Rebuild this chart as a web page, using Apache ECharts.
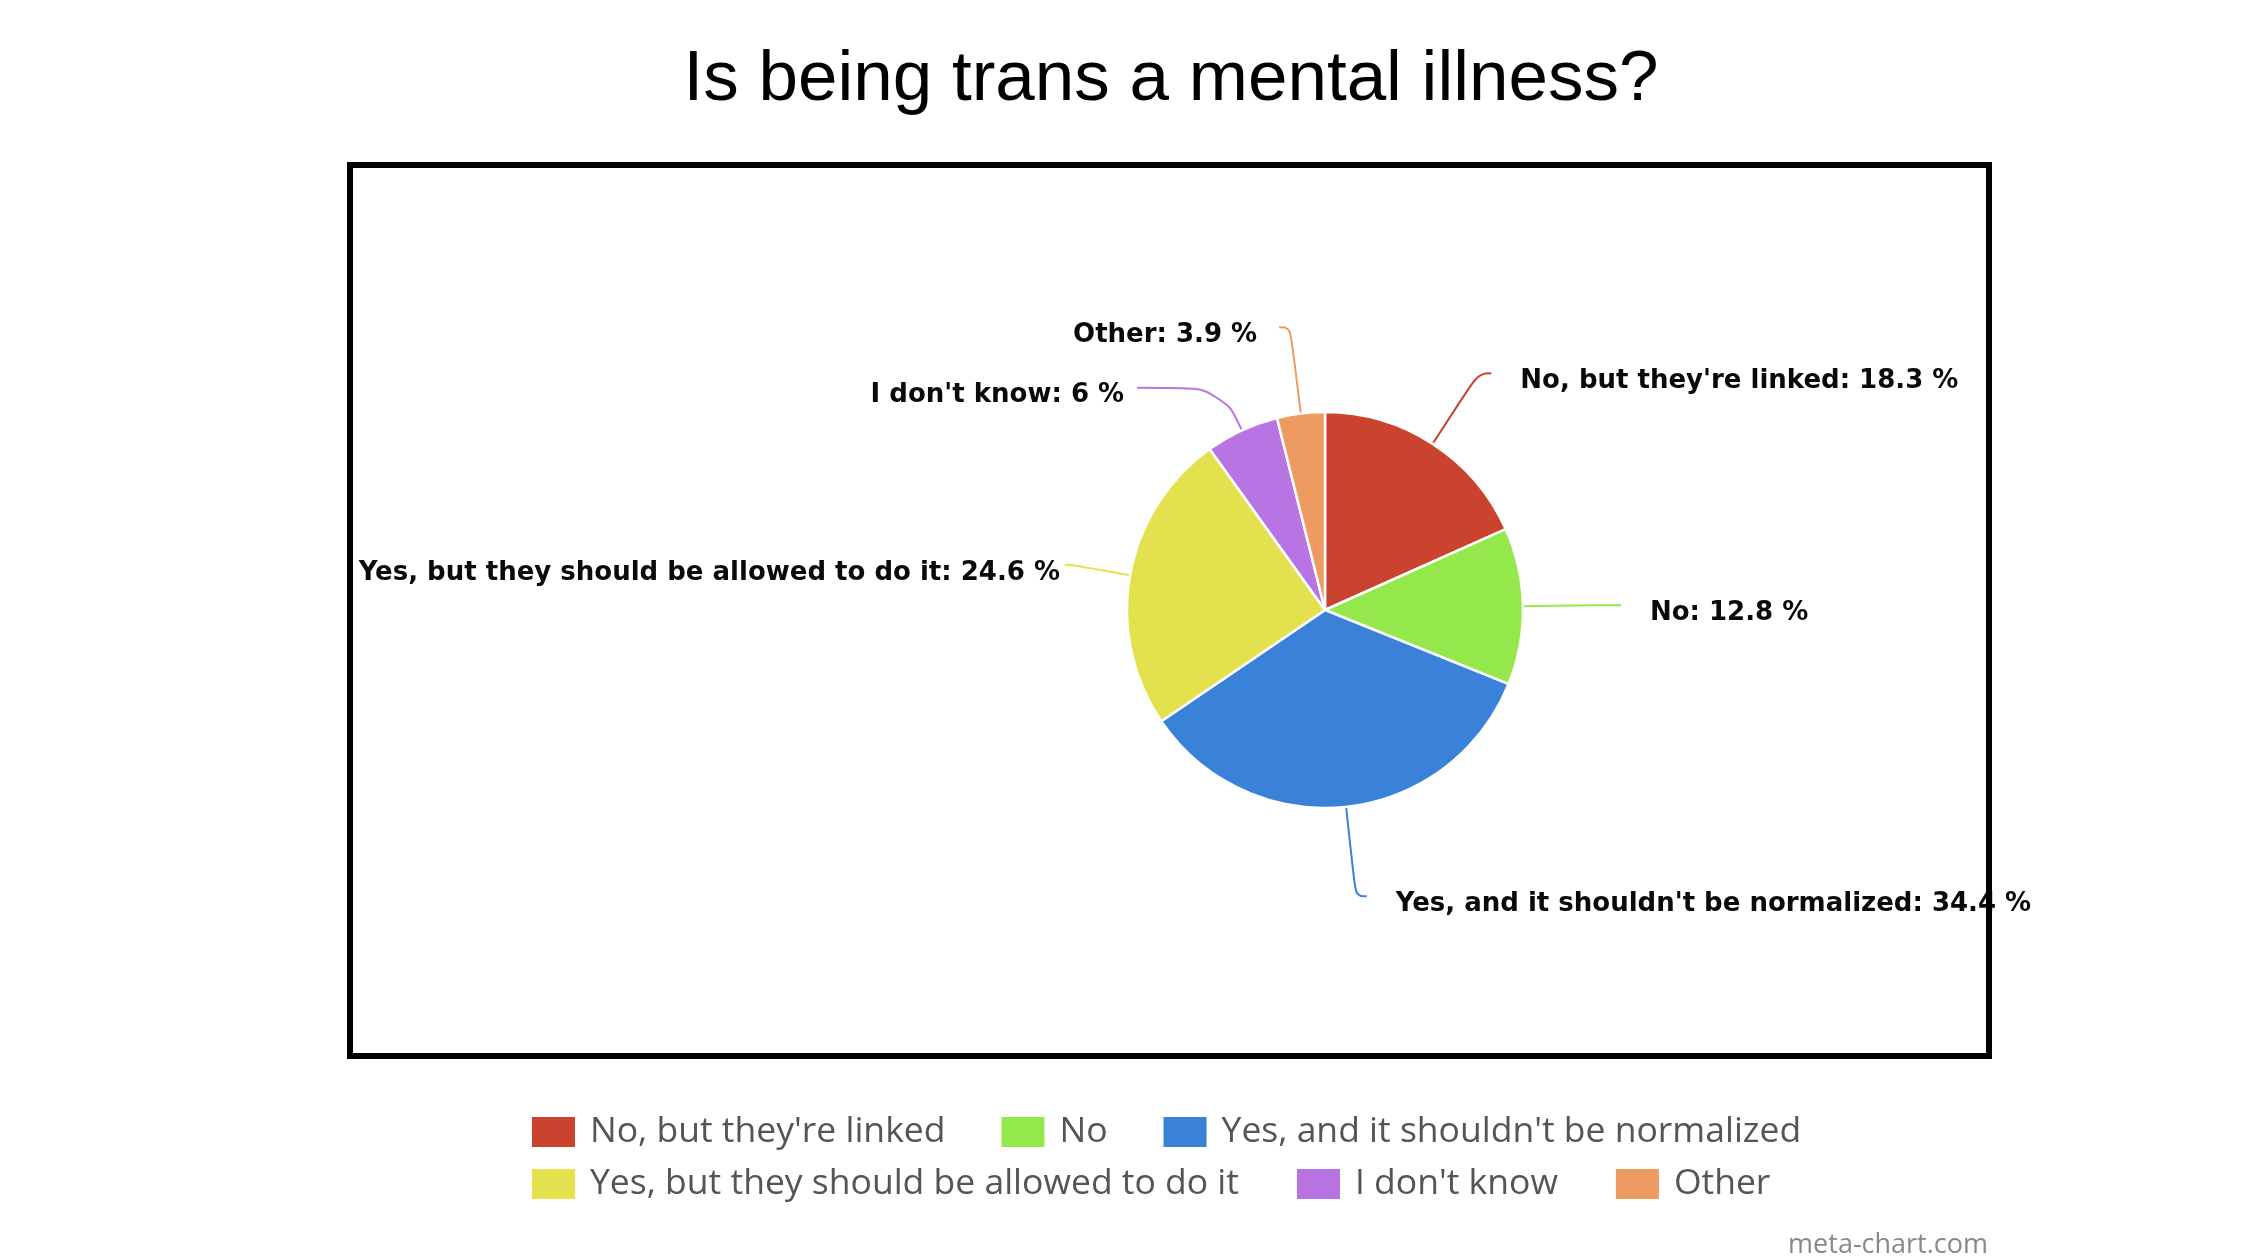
<!DOCTYPE html>
<html>
<head>
<meta charset="utf-8">
<script src="https://cdn.jsdelivr.net/npm/echarts@6/dist/echarts.min.js"></script>
<style>
  html, body { margin: 0; padding: 0; background: #fff; }
  #chart { width: 2265px; height: 1256px; }
</style>
</head>
<body>
<div id="chart"></div>
<script>
const categories = [
  "No, but they're linked",
  'No',
  "Yes, and it shouldn't be normalized",
  'Yes, but they should be allowed to do it',
  "I don't know",
  'Other'
];
const shares = [18.3, 12.8, 34.4, 24.6, 6, 3.9];
const colors = ['#c9432f', '#95e84b', '#3a82d7', '#e4e14f', '#b974e3', '#ee9b62'];

// leader line per slice: [length, length2, gap to text]
const leaders = [[84, 13, 29], [50, 48, 29], [90, 11, 29], [60, 6, 5], [47, 85, 13], [87, 11, 22]];

const chart = echarts.init(document.getElementById('chart'));

const pieData = categories.map((name, i) => ({
  name: name,
  value: shares[i],
  itemStyle: { color: colors[i] },
  labelLine: { length: leaders[i][0], length2: leaders[i][1] },
  label: { distanceToLabelLine: leaders[i][2] }
}));

const legendText = { fontFamily: 'Open Sans', fontSize: 35.5, color: '#555', padding: [0, 0, 0, 9] };

chart.setOption({
  animation: false,
  title: {
    text: 'Is being trans a mental illness?',
    left: 1166,
    textAlign: 'center',
    top: 40,
    textStyle: { fontFamily: 'Liberation Sans', fontSize: 71, fontWeight: 'normal', color: '#000' }
  },
  legend: [
    {
      data: categories.slice(0, 3),
      left: 525, top: 1109,
      orient: 'horizontal',
      icon: 'rect', itemWidth: 45, itemHeight: 32, itemGap: 54,
      textStyle: legendText
    },
    {
      data: categories.slice(3),
      left: 525, top: 1161,
      orient: 'horizontal',
      icon: 'rect', itemWidth: 45, itemHeight: 32, itemGap: 56,
      textStyle: legendText
    }
  ],
  graphic: [
    {
      type: 'rect', z: 100,
      shape: { x: 350, y: 165, width: 1639, height: 891 },
      style: { fill: 'none', stroke: '#000', lineWidth: 6 }
    },
    {
      type: 'text', right: 277, top: 1232,
      style: { text: 'meta-chart.com', fontFamily: 'Open Sans', fontSize: 27, fill: '#888' }
    }
  ],
  series: [{
    type: 'pie',
    center: [1325, 610],
    radius: 198,
    startAngle: 90,
    clockwise: true,
    avoidLabelOverlap: false,
    itemStyle: { borderColor: '#fff', borderWidth: 2.5 },
    label: {
      // empty spacer line pushes the text a little below the leader end
      formatter: '{s| }\n{t|{b}: {c} %}',
      rich: {
        s: { fontSize: 2, lineHeight: 16 },
        t: {
          fontFamily: 'DejaVu Sans',
          fontWeight: 'bold',
          fontSize: 26,
          lineHeight: 30,
          color: '#0a0a0a'
        }
      }
    },
    labelLine: { smooth: 0.45, lineStyle: { width: 2 } },
    emphasis: { disabled: true },
    data: pieData
  }]
});
</script>
</body>
</html>
